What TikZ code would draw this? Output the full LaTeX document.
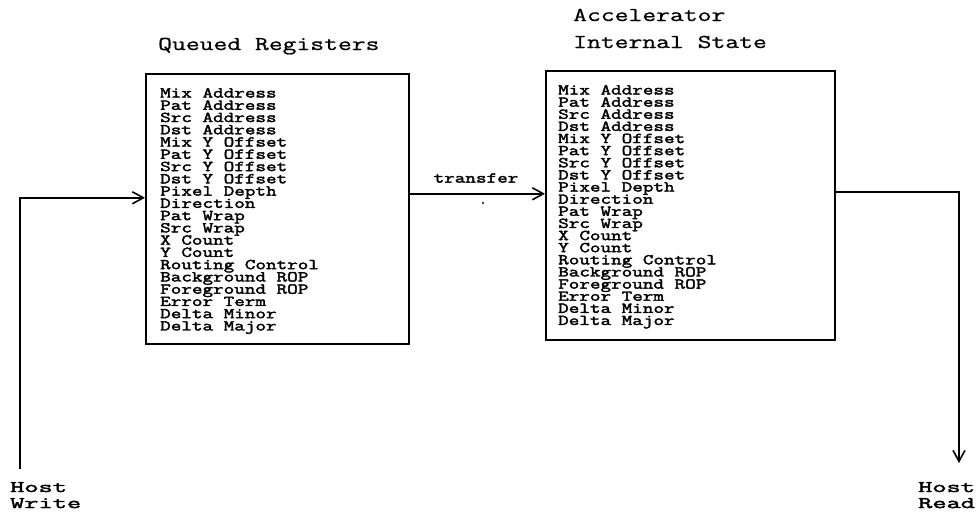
\documentclass[tikz,border=0pt]{standalone}
\usepackage{fontspec}
\usetikzlibrary{arrows.meta}
\newfontfamily\regfont[FakeStretch=1.37, FakeBold=2.5]{Latin Modern Mono}
\newfontfamily\headfont[FakeStretch=1.37, FakeBold=0.8]{Latin Modern Mono}
\newfontfamily\hostfont[FakeStretch=1.7, FakeBold=2.5]{Latin Modern Mono}
\tikzset{
  wire/.style={line width=1.6pt, line cap=rect},
  arr/.style={wire, -{Straight Barb[length=11pt,width=12pt,line width=1.6pt]}},
  regbox/.style={draw, line width=1.6pt, inner sep=0pt, anchor=north west},
  reg/.style={inner sep=0pt, anchor=base west, font=\regfont\fontsize{15}{12}\selectfont},
  head/.style={inner sep=0pt, anchor=base west, font=\headfont\fontsize{19.6}{14}\selectfont},
  host/.style={inner sep=0pt, anchor=base west, font=\hostfont\fontsize{16.2}{14}\selectfont},
}
\begin{document}
\begin{tikzpicture}[x=1pt, y=-1pt]
  \useasboundingbox (0,0) rectangle (977,512);

  % the two register files
  \node[regbox, minimum width=263pt, minimum height=270pt] (qbox) at (145,73) {};
  \node[regbox, minimum width=289pt, minimum height=269pt] (rbox) at (545,70) {};

  % headings
  \node[head] (qtitle) at (158,50) {Queued Registers};
  \node[head] (rtitle1) at (573,21) {Accelerator};
  \node[head] (rtitle2) at (573,48) {Internal State};

  % register names
  \foreach \t [count=\i] in {Mix Address, Pat Address, Src Address, Dst Address,
      Mix Y Offset, Pat Y Offset, Src Y Offset, Dst Y Offset, Pixel Depth,
      Direction, Pat Wrap, Src Wrap, X Count, Y Count, Routing Control,
      Background ROP, Foreground ROP, Error Term, Delta Minor, Delta Major} {
    \node[reg] (q\i) at (160, {97.5+12.26*(\i-1)}) {\t};
    \node[reg] (r\i) at (558, {94.5+12.13*(\i-1)}) {\t};
  }

  % host side labels
  \node[host] (hw1) at (10,492) {Host};
  \node[host] (hw2) at (10,508) {Write};
  \node[host] (hr1) at (918,492) {Host};
  \node[host] (hr2) at (918,508) {Read};

  % host write into the queue
  \coordinate (hwstart) at (20,468);
  \coordinate (qin) at ([yshift=11pt]qbox.west);
  \draw[arr] (hwstart) |- (qin);

  % transfer from the queue to the internal state
  \coordinate (tout) at ([yshift=15pt]qbox.east);
  \draw[arr] (tout) -- (tout -| rbox.west);
  \node[reg, anchor=center] (tlabel) at (476,178) {transfer};
  \fill (483,203) circle (1.2pt);

  % host read from the internal state
  \coordinate (rout) at ([yshift=13.5pt]rbox.east);
  \coordinate (hrend) at (959,463);
  \draw[arr] (rout) -| (hrend);
\end{tikzpicture}
\end{document}
